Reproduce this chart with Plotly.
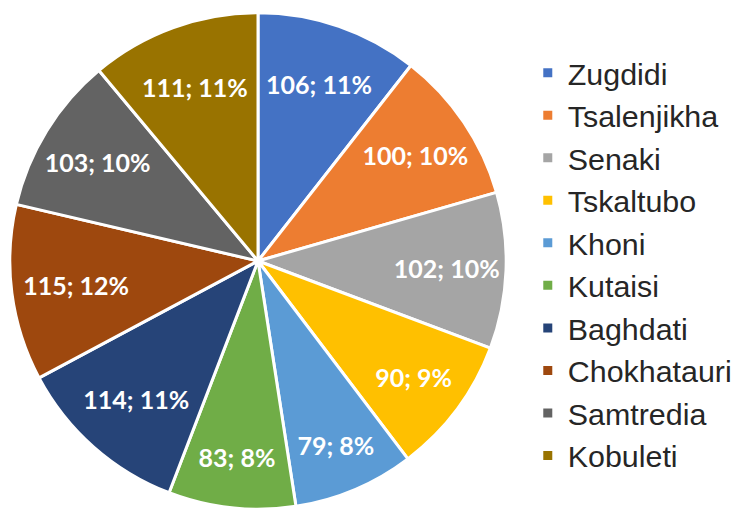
import plotly.graph_objects as go

districts = ["Zugdidi", "Tsalenjikha", "Senaki", "Tskaltubo", "Khoni",
             "Kutaisi", "Baghdati", "Chokhatauri", "Samtredia", "Kobuleti"]
counts = [106, 100, 102, 90, 79, 83, 114, 115, 103, 111]
percent_labels = ["11%", "10%", "10%", "9%", "8%", "8%", "11%", "12%", "10%", "11%"]
colors = ["#4472C4", "#ED7D31", "#A5A5A5", "#FFC000", "#5B9BD5",
          "#70AD47", "#264478", "#9E480E", "#636363", "#997300"]

fig = go.Figure(go.Pie(
    labels=districts,
    values=counts,
    customdata=percent_labels,
    texttemplate="%{value}; %{customdata}",
    textposition="inside",
    insidetextorientation="horizontal",
    textfont=dict(family="Lato", size=25, color="white", weight="bold"),
    marker=dict(colors=colors, line=dict(color="white", width=3)),
    sort=False,
    direction="clockwise",
    rotation=0,
    domain=dict(x=[10 / 737, 516 / 737], y=[0, 506 / 514]),
    hoverinfo="skip",
))

fig.update_layout(
    width=737, height=514,
    margin=dict(l=0, r=0, t=0, b=0),
    paper_bgcolor="white",
    showlegend=True,
    legend=dict(
        x=538 / 737, xanchor="left",
        y=1 - 264.5 / 514, yanchor="middle",
        font=dict(family="Liberation Sans", size=30.4, color="#262626"),
        bgcolor="rgba(0,0,0,0)",
    ),
)

fig.write_html("out.html", config={"displayModeBar": False},
               post_script="document.body.style.margin='0px';")
